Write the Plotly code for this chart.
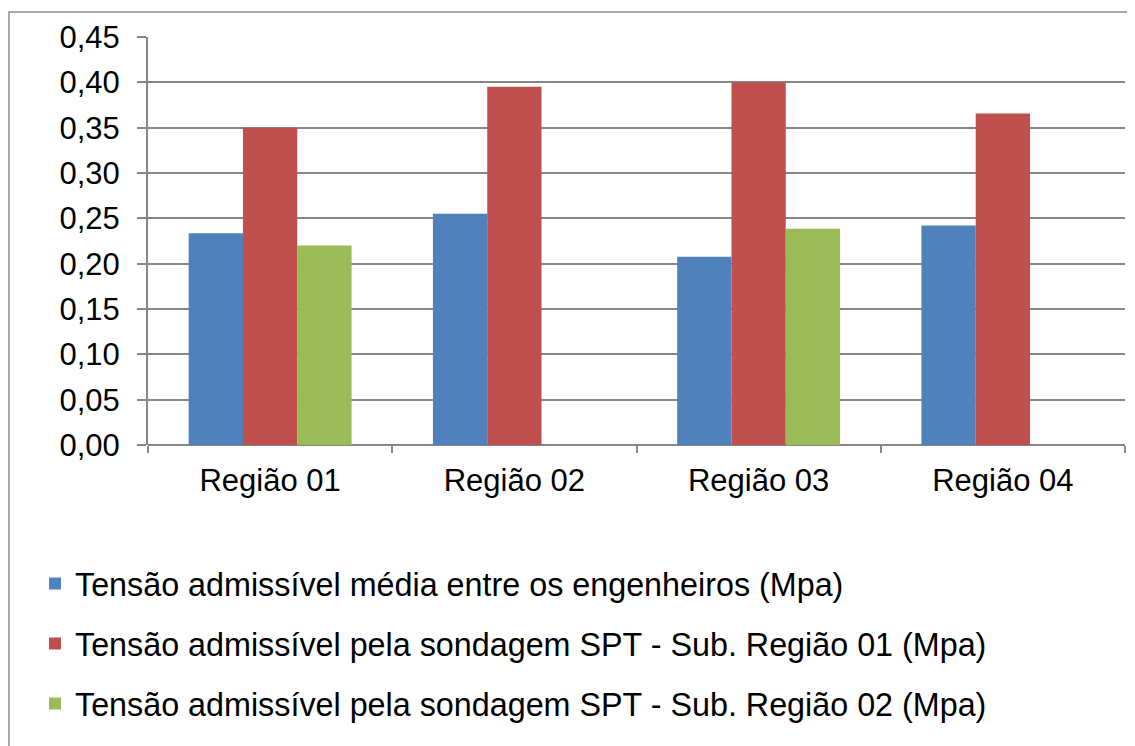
import plotly.graph_objects as go

categories = ["Região 01", "Região 02", "Região 03", "Região 04"]
series_names = [
    "Tensão admissível média entre os engenheiros (Mpa)",
    "Tensão admissível pela sondagem SPT - Sub. Região 01 (Mpa)",
    "Tensão admissível pela sondagem SPT - Sub. Região 02 (Mpa)",
]
media_engenheiros = [0.2335, 0.255, 0.2077, 0.242]
sub_regiao_01 = [0.350, 0.395, 0.400, 0.3655]
sub_regiao_02 = [0.220, None, 0.2385, None]
colors = ["#4F81BD", "#C0504D", "#9BBB59"]
y_ticks = [0.0, 0.05, 0.10, 0.15, 0.20, 0.25, 0.30, 0.35, 0.40, 0.45]

FONT = "Liberation Sans, Arial, sans-serif"
# page body has an 8px default margin; figure is sized to fit the window
W, H = 1127, 738
L, R, T, B = 140, 10, 29, 301

fig = go.Figure()
for i, (name, vals) in enumerate(zip(series_names, [media_engenheiros, sub_regiao_01, sub_regiao_02])):
    fig.add_trace(go.Bar(
        x=categories, y=vals, name=name,
        marker=dict(color=colors[i], line=dict(width=0)),
        legendgroup=f"g{i}",
    ))

pw = W - L - R
ph = H - T - B

fig.update_layout(
    width=W, height=H,
    margin=dict(l=L, r=R, t=T, b=B, pad=0, autoexpand=False),
    paper_bgcolor="white", plot_bgcolor="white",
    separators=",.",
    barmode="group", bargap=0.333, bargroupgap=0,
    font=dict(family=FONT, size=31, color="black"),
    showlegend=True,
    legend=dict(
        x=(27 - L) / pw, xanchor="left",
        y=1 - (548 - T) / ph, yanchor="top",
        font=dict(family=FONT, size=32.3, color="black"),
        tracegroupgap=15,
        bgcolor="rgba(0,0,0,0)",
        itemclick=False,
    ),
    xaxis=dict(
        type="category",
        tickson="boundaries",
        ticks="outside", ticklen=7, tickcolor="#868686", tickwidth=2,
        showline=False,
        showgrid=False,
        tickfont=dict(family=FONT, size=31, color="black"),
        ticklabelstandoff=14,
    ),
    yaxis=dict(
        range=[0, 0.45],
        tickvals=y_ticks,
        tickformat=".2f",
        ticks="outside", ticklen=9, tickcolor="#868686", tickwidth=2,
        showline=True, linecolor="#868686", linewidth=2,
        showgrid=True, gridcolor="#868686", gridwidth=2,
        zeroline=True, zerolinecolor="#868686", zerolinewidth=2,
        tickfont=dict(family=FONT, size=31, color="black"),
        ticklabelstandoff=11,
    ),
)

# outer chart frame (partially visible)
fig.add_shape(
    type="rect", xref="paper", yref="paper",
    x0=(1 - L) / pw, x1=(W + 20 - L) / pw,
    y0=1 - (H + 20 - T) / ph, y1=1 + (T - 4) / ph,
    line=dict(color="#8C8C8C", width=1.5), fillcolor="rgba(0,0,0,0)",
    layer="below",
)

fig.write_html("out.html")
